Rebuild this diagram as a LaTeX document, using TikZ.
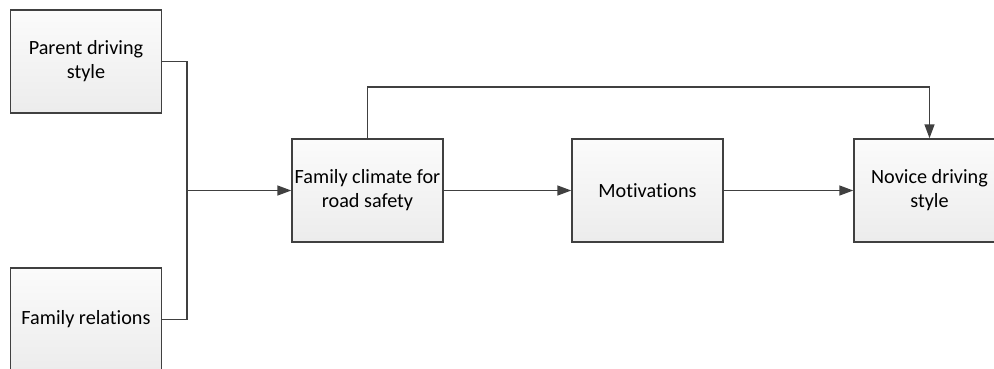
\documentclass[tikz,border=0pt]{standalone}
\usepackage{fontspec}
\setmainfont[Ligatures=NoCommon]{Carlito}
\usetikzlibrary{arrows.meta}
\definecolor{linegray}{HTML}{404040}
\tikzset{
  box/.style={draw=linegray, line width=1.5pt, top color=white!97!gray, bottom color=gray!15,
    minimum width=151pt, minimum height=103pt, inner sep=0pt, align=center,
    font=\fontsize{20.2}{24}\selectfont, text=black},
  conn/.style={draw=linegray, line width=1.5pt},
  arr/.style={conn, -{Triangle[length=14pt,width=10pt]}}
}
\begin{document}
\begin{tikzpicture}[x=1pt,y=-1pt]
\clip (0,0) rectangle (994,368);
\fill[white] (0,0) rectangle (994,368);
\node[box] (A) at (86,61.5) {Parent driving\\style};
\node[box] (B) at (86,319.5) {Family relations};
\node[box] (C) at (367.5,190.5) {Family climate for\\road safety};
\node[box] (D) at (647.5,190.5) {Motivations};
\node[box] (E) at (929.5,190.5) {Novice driving\\style};
\coordinate (J) at (187,190.5);
\coordinate (T) at (367.5,87);
\draw[conn] (A.east) -| (J) |- (B.east);
\draw[arr] (J) -- (C.west);
\draw[arr] (C.east) -- (D.west);
\draw[arr] (D.east) -- (E.west);
\draw[arr] (C.north) -- (T) -| (E.north);
\end{tikzpicture}
\end{document}
